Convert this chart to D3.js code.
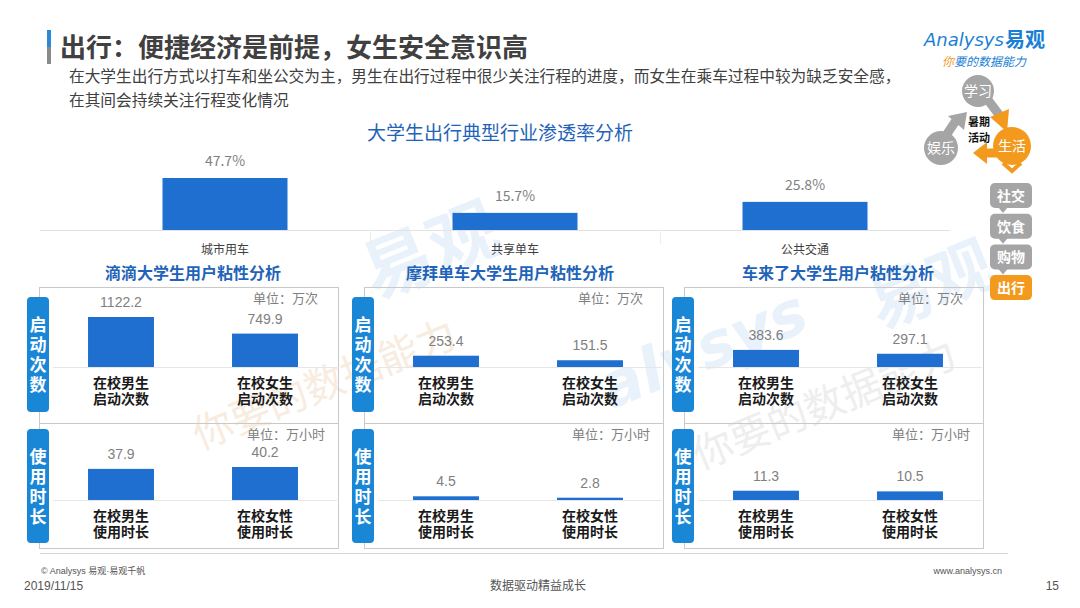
<!DOCTYPE html>
<html>
<head>
<meta charset="utf-8">
<script src="https://cdn.jsdelivr.net/npm/d3@7"></script>
<style>
  html, body { margin: 0; padding: 0; background: #fff; }
  svg { display: block; font-family: "Noto Sans CJK SC", "Noto Sans", sans-serif; }
</style>
</head>
<body>
<svg id="chart" width="1080" height="608"></svg>
<script>

// penetration chart
const industries = ['城市用车', '共享单车', '公共交通'];
const penetration = [47.7, 15.7, 25.8];

// stickiness panels, one per app
const apps = ['滴滴', '摩拜单车', '车来了'];
const launchLabels = [['在校男生', '启动次数'], ['在校女生', '启动次数']];
const launchCounts = [[1122.2, 749.9], [253.4, 151.5], [383.6, 297.1]];
const usageLabels = [['在校男生', '使用时长'], ['在校女性', '使用时长']];
const usageHours = [[37.9, 40.2], [4.5, 2.8], [11.3, 10.5]];

// side diagram
const activities = ['学习', '娱乐', '生活'];
const lifeItems = ['社交', '饮食', '购物', '出行'];

const BAR = '#1f6fd0';
const PILL = '#1a86d6';
const TITLE_BLUE = '#1f64b8';
const ORANGE = '#f39a1e';
const GREY = '#a5a5a5';
const TEXT = '#404040';

// compact line metrics for tight spots, CJK glyphs still come from Noto
const TIGHT_FONT = '"Liberation Sans", "Noto Sans CJK SC", sans-serif';

const PANEL_LEFT = [39, 364, 684];
const PANEL_TITLE_X = [193, 510, 838];


/**
 * Top chart: penetration of three travel industries.
 * @class
 */
class PenetrationChart {


  /**
   * @constructor
   * @param {Selection} svg
   */
  constructor(svg) {

    this._svg = svg;
    this._baseline = 230;

    this._x = d3.scaleBand()
      .domain(industries)
      .range([80, 950])
      .paddingInner(0.569)
      .paddingOuter(0.2845);

    this._y = d3.scaleLinear()
      .domain([0, d3.max(penetration)])
      .range([this._baseline, this._baseline - 52]);
  }


  /**
   * Render chart.
   * @returns {PenetrationChart}
   */
  render() {

    const g = this._svg.append('g');
    const x = this._x;
    const y = this._y;

    g.append('text')
      .attr('x', 500)
      .attr('y', 140)
      .attr('text-anchor', 'middle')
      .style('font-size', '19px')
      .style('fill', TITLE_BLUE)
      .text('大学生出行典型行业渗透率分析');

    g.append('line')
      .attr('x1', 40)
      .attr('x2', 950)
      .attr('y1', this._baseline + 0.5)
      .attr('y2', this._baseline + 0.5)
      .style('stroke', '#e3e3e3');

    // faint separators between the categories
    const step = x.step();
    industries.slice(1).forEach(d => {

      const sx = Math.round(x(d) - (step - x.bandwidth()) / 2) + 0.5;
      g.append('line')
        .attr('x1', sx)
        .attr('x2', sx)
        .attr('y1', this._baseline)
        .attr('y2', this._baseline + 14)
        .style('stroke', '#ececec');
    });

    const data = industries.map((d, i) => ({ name: d, value: penetration[i] }));

    g.selectAll('rect.pen')
      .data(data)
      .enter()
      .append('rect')
      .attr('class', 'pen')
      .attr('x', d => x(d.name))
      .attr('width', x.bandwidth())
      .attr('y', d => y(d.value))
      .attr('height', d => this._baseline - y(d.value))
      .style('fill', BAR);

    g.selectAll('text.pen-val')
      .data(data)
      .enter()
      .append('text')
      .attr('class', 'pen-val')
      .attr('x', d => x(d.name) + x.bandwidth() / 2)
      .attr('y', d => y(d.value) - 12)
      .attr('text-anchor', 'middle')
      .style('font-size', '14px')
      .style('fill', '#7f7f7f')
      .text(d => d.value.toFixed(1) + '%');

    const axis = g.append('g')
      .attr('transform', `translate(0,${this._baseline})`)
      .call(d3.axisBottom(x).tickSize(0).tickPadding(15));

    axis.select('.domain').remove();
    axis.selectAll('text')
      .style('font-family', '"Noto Sans CJK SC", sans-serif')
      .style('font-size', '12px')
      .style('fill', TEXT);

    return this;
  }
}


/**
 * Stickiness panel: launches and usage time, male vs female.
 * @class
 */
class StickinessPanel {


  /**
   * @constructor
   * @param {Selection} svg
   * @param {Number} index
   * @param {Object} scales
   */
  constructor(svg, index, scales) {

    this._svg = svg;
    this._i = index;
    this._left = PANEL_LEFT[index];
    this._width = 299;
    this._countH = scales.count;
    this._hourH = scales.hour;

    this._x = d3.scaleBand()
      .domain([0, 1])
      .range([this._left + 10, this._left + 298])
      .paddingInner(0.542)
      .paddingOuter(0.271);
  }


  /**
   * Render panel.
   * @returns {StickinessPanel}
   */
  render() {

    const g = this._svg.append('g');
    const x0 = this._left;

    g.append('text')
      .attr('x', PANEL_TITLE_X[this._i])
      .attr('y', 279)
      .attr('text-anchor', 'middle')
      .style('font-size', '16px')
      .style('font-weight', 'bold')
      .style('fill', TITLE_BLUE)
      .text(apps[this._i] + '大学生用户粘性分析');

    g.append('rect')
      .attr('x', x0 + 0.5)
      .attr('y', 287.5)
      .attr('width', this._width)
      .attr('height', 136)
      .style('fill', 'none')
      .style('stroke', '#c9c9c9');

    g.append('rect')
      .attr('x', x0 + 0.5)
      .attr('y', 423.5)
      .attr('width', this._width)
      .attr('height', 125)
      .style('fill', 'none')
      .style('stroke', '#c9c9c9');

    this._section(g, {
      pillY: 297, pillH: 115, pillText: '启动次数',
      baseline: 367, values: launchCounts[this._i], height: this._countH,
      labels: launchLabels, unit: '单位：万次', unitX: x0 + 279, unitY: 303
    });

    this._section(g, {
      pillY: 429, pillH: 114, pillText: '使用时长',
      baseline: 500, values: usageHours[this._i], height: this._hourH,
      labels: usageLabels, unit: '单位：万小时', unitX: x0 + 286, unitY: 439
    });

    return this;
  }


  /**
   * One half of the panel.
   * @private
   * @param {Selection} g
   * @param {Object} o
   */
  _section(g, o) {

    const x = this._x;
    const x0 = this._left;

    g.append('rect')
      .attr('x', x0 - 12)
      .attr('y', o.pillY)
      .attr('width', 22)
      .attr('height', o.pillH)
      .attr('rx', 4)
      .style('fill', PILL);

    // vertical label, one text element
    g.append('text')
      .attr('x', x0 - 1)
      .attr('y', o.pillY + o.pillH / 2 + 2)
      .attr('text-anchor', 'middle')
      .style('writing-mode', 'vertical-rl')
      .style('letter-spacing', '3px')
      .style('font-size', '17px')
      .style('font-weight', 'bold')
      .style('fill', '#fff')
      .text(o.pillText);

    g.append('text')
      .attr('x', o.unitX)
      .attr('y', o.unitY)
      .attr('text-anchor', 'end')
      .style('font-family', TIGHT_FONT)
      .style('font-size', '13px')
      .style('fill', '#808080')
      .text(o.unit);

    g.append('line')
      .attr('x1', x0 + 14)
      .attr('x2', x0 + 298)
      .attr('y1', o.baseline + 0.5)
      .attr('y2', o.baseline + 0.5)
      .style('stroke', '#e6e6e6');

    const data = o.values.map((v, k) => ({ k: k, value: v }));

    g.selectAll(null)
      .data(data)
      .enter()
      .append('rect')
      .attr('x', d => x(d.k))
      .attr('width', x.bandwidth())
      .attr('y', d => o.baseline - o.height(d.value))
      .attr('height', d => o.height(d.value))
      .style('fill', BAR);

    g.selectAll(null)
      .data(data)
      .enter()
      .append('text')
      .attr('x', d => x(d.k) + x.bandwidth() / 2)
      .attr('y', d => o.baseline - o.height(d.value) - 10)
      .attr('text-anchor', 'middle')
      .style('font-family', TIGHT_FONT)
      .style('font-size', '14px')
      .style('fill', '#7f7f7f')
      .text(d => d.value.toFixed(1));

    const labels = g.selectAll(null)
      .data(o.labels)
      .enter()
      .append('text')
      .attr('text-anchor', 'middle')
      .style('font-family', TIGHT_FONT)
      .style('font-size', '14px')
      .style('font-weight', 'bold')
      .style('fill', '#1a1a1a');

    labels.selectAll('tspan')
      .data((d, k) => d.map(t => ({ t: t, k: k })))
      .enter()
      .append('tspan')
      .attr('x', d => x(d.k) + x.bandwidth() / 2)
      .attr('y', (d, j) => o.baseline + 21 + j * 16)
      .text(d => d.t);
  }
}


/**
 * Header, logo, side diagram, watermark, footer.
 */
function renderDecor(svg) {

  // watermark
  const wm = svg.append('g')
    .style('fill', '#e9f2fb')
    .style('font-family', '"DejaVu Sans", sans-serif');

  wm.append('text')
    .attr('transform', 'translate(375,300) rotate(-22)')
    .style('font-size', '70px')
    .style('font-weight', 'bold')
    .style('font-family', '"Noto Sans CJK SC", sans-serif')
    .text('易观');

  wm.append('text')
    .attr('transform', 'translate(880,330) rotate(-22)')
    .style('font-size', '64px')
    .style('font-weight', 'bold')
    .style('font-family', '"Noto Sans CJK SC", sans-serif')
    .text('易观');

  wm.append('text')
    .attr('transform', 'translate(610,410) rotate(-22)')
    .style('font-size', '62px')
    .style('font-weight', 'bold')
    .style('font-style', 'italic')
    .text('alysys');

  wm.append('text')
    .attr('transform', 'translate(200,450) rotate(-22)')
    .style('font-size', '40px')
    .style('fill', '#f8ece0')
    .style('font-family', '"Noto Sans CJK SC", sans-serif')
    .text('你要的数据能力');

  wm.append('text')
    .attr('transform', 'translate(700,470) rotate(-22)')
    .style('font-size', '40px')
    .style('fill', '#eeeeee')
    .style('font-family', '"Noto Sans CJK SC", sans-serif')
    .text('你要的数据能力');

  // header
  svg.append('rect').attr('x', 47).attr('y', 30).attr('width', 4).attr('height', 17).style('fill', '#2a8ad8');
  svg.append('rect').attr('x', 47).attr('y', 47).attr('width', 4).attr('height', 17).style('fill', '#8a8a8a');

  svg.append('text')
    .attr('x', 60)
    .attr('y', 57)
    .style('font-size', '26px')
    .style('font-weight', 'bold')
    .style('fill', TEXT)
    .text('出行：便捷经济是前提，女生安全意识高');

  const sub = svg.append('text')
    .style('font-size', '15.7px')
    .style('fill', TEXT);

  sub.append('tspan')
    .attr('x', 69)
    .attr('y', 82)
    .text('在大学生出行方式以打车和坐公交为主，男生在出行过程中很少关注行程的进度，而女生在乘车过程中较为缺乏安全感，');

  sub.append('tspan')
    .attr('x', 69)
    .attr('y', 106)
    .text('在其间会持续关注行程变化情况');

  // logo
  svg.append('text')
    .attr('x', 924)
    .attr('y', 46)
    .style('font-size', '18px')
    .style('font-style', 'italic')
    .style('font-family', '"DejaVu Sans", sans-serif')
    .style('fill', '#1a7fd4')
    .text('Analysys');

  svg.append('text')
    .attr('x', 1005)
    .attr('y', 47)
    .style('font-size', '20px')
    .style('font-weight', 'bold')
    .style('fill', '#1a7fd4')
    .text('易观');

  const tag = svg.append('text')
    .attr('x', 942)
    .attr('y', 66)
    .style('font-size', '12px')
    .style('font-style', 'italic');

  tag.append('tspan').style('fill', ORANGE).text('你');
  tag.append('tspan').style('fill', '#1a7fd4').text('要的数据能力');

  // activity cycle
  const cyc = svg.append('g');
  const pos = { '学习': [978, 91, 16], '娱乐': [941, 148, 17], '生活': [1012, 146, 19] };

  const arrow = (pts, color, head, headColor) => {

    cyc.append('path')
      .attr('d', d3.line()(pts))
      .style('fill', 'none')
      .style('stroke', color)
      .style('stroke-width', 9);

    cyc.append('path')
      .attr('d', d3.line()(head) + 'Z')
      .style('fill', headColor || color);
  };

  arrow([[988, 100], [1000, 116]], GREY, [[990, 117], [1009, 109], [1007, 132]], ORANGE);
  arrow([[1000, 153], [986, 153]], ORANGE, [[987, 142], [987, 164], [973, 153]]);
  arrow([[947, 134], [957, 119]], GREY, [[948, 116], [967, 112], [964, 130]]);

  activities.forEach(a => {

    const p = pos[a];
    cyc.append('circle')
      .attr('cx', p[0])
      .attr('cy', p[1])
      .attr('r', p[2])
      .style('fill', a === '生活' ? ORANGE : GREY);

    cyc.append('text')
      .attr('x', p[0])
      .attr('y', p[1] + 5)
      .attr('text-anchor', 'middle')
      .style('font-size', '14px')
      .style('fill', '#fff')
      .text(a);
  });

  const centerText = cyc.append('text')
    .attr('text-anchor', 'middle')
    .style('font-family', TIGHT_FONT)
    .style('font-size', '11px')
    .style('font-weight', 'bold')
    .style('fill', '#111');

  centerText.append('tspan').attr('x', 979).attr('y', 126).text('暑期');
  centerText.append('tspan').attr('x', 979).attr('y', 142).text('活动');

  cyc.append('path')
    .attr('d', 'M1003,163 L1012,171 L1021,163')
    .style('fill', 'none')
    .style('stroke', ORANGE)
    .style('stroke-width', 4);

  const boxes = svg.append('g');
  lifeItems.forEach((d, k) => {

    const by = 183 + k * 30.7;
    const last = k === lifeItems.length - 1;

    boxes.append('rect')
      .attr('x', 990)
      .attr('y', by)
      .attr('width', 42)
      .attr('height', 25)
      .attr('rx', 5)
      .style('fill', last ? ORANGE : GREY);

    if (!last) {
      boxes.append('path')
        .attr('d', `M998,${by + 24} L1008,${by + 24} L1003,${by + 30}Z`)
        .style('fill', GREY);
    }

    boxes.append('text')
      .attr('x', 1011)
      .attr('y', by + 18)
      .attr('text-anchor', 'middle')
      .style('font-size', '14px')
      .style('font-weight', 'bold')
      .style('fill', '#fff')
      .text(d);
  });

  // footer
  svg.append('line')
    .attr('x1', 40)
    .attr('x2', 1008)
    .attr('y1', 553.5)
    .attr('y2', 553.5)
    .style('stroke', '#d4d4d4');

  svg.append('text')
    .attr('x', 41)
    .attr('y', 574)
    .style('font-family', TIGHT_FONT)
    .style('font-size', '9px')
    .style('fill', '#555')
    .text('© Analysys 易观·易观千帆');

  svg.append('text')
    .attr('x', 24)
    .attr('y', 590)
    .style('font-family', TIGHT_FONT)
    .style('font-size', '12px')
    .style('fill', '#555')
    .text('2019/11/15');

  svg.append('text')
    .attr('x', 538)
    .attr('y', 590)
    .attr('text-anchor', 'middle')
    .style('font-size', '12px')
    .style('fill', '#555')
    .text('数据驱动精益成长');

  svg.append('text')
    .attr('x', 1002)
    .attr('y', 574)
    .attr('text-anchor', 'end')
    .style('font-family', TIGHT_FONT)
    .style('font-size', '9px')
    .style('fill', '#555')
    .text('www.analysys.cn');

  svg.append('text')
    .attr('x', 1059)
    .attr('y', 590)
    .attr('text-anchor', 'end')
    .style('font-family', TIGHT_FONT)
    .style('font-size', '12px')
    .style('fill', '#555')
    .text('15');
}


const svg = d3.select('#chart');

renderDecor(svg);

new PenetrationChart(svg).render();

const scales = {
  count: d3.scaleLinear().domain([0, d3.max(launchCounts.flat())]).range([0, 50]),
  hour: d3.scaleLinear().domain([0, d3.max(usageHours.flat())]).range([0, 33])
};

apps.forEach((a, i) => new StickinessPanel(svg, i, scales).render());

</script>
</body>
</html>
